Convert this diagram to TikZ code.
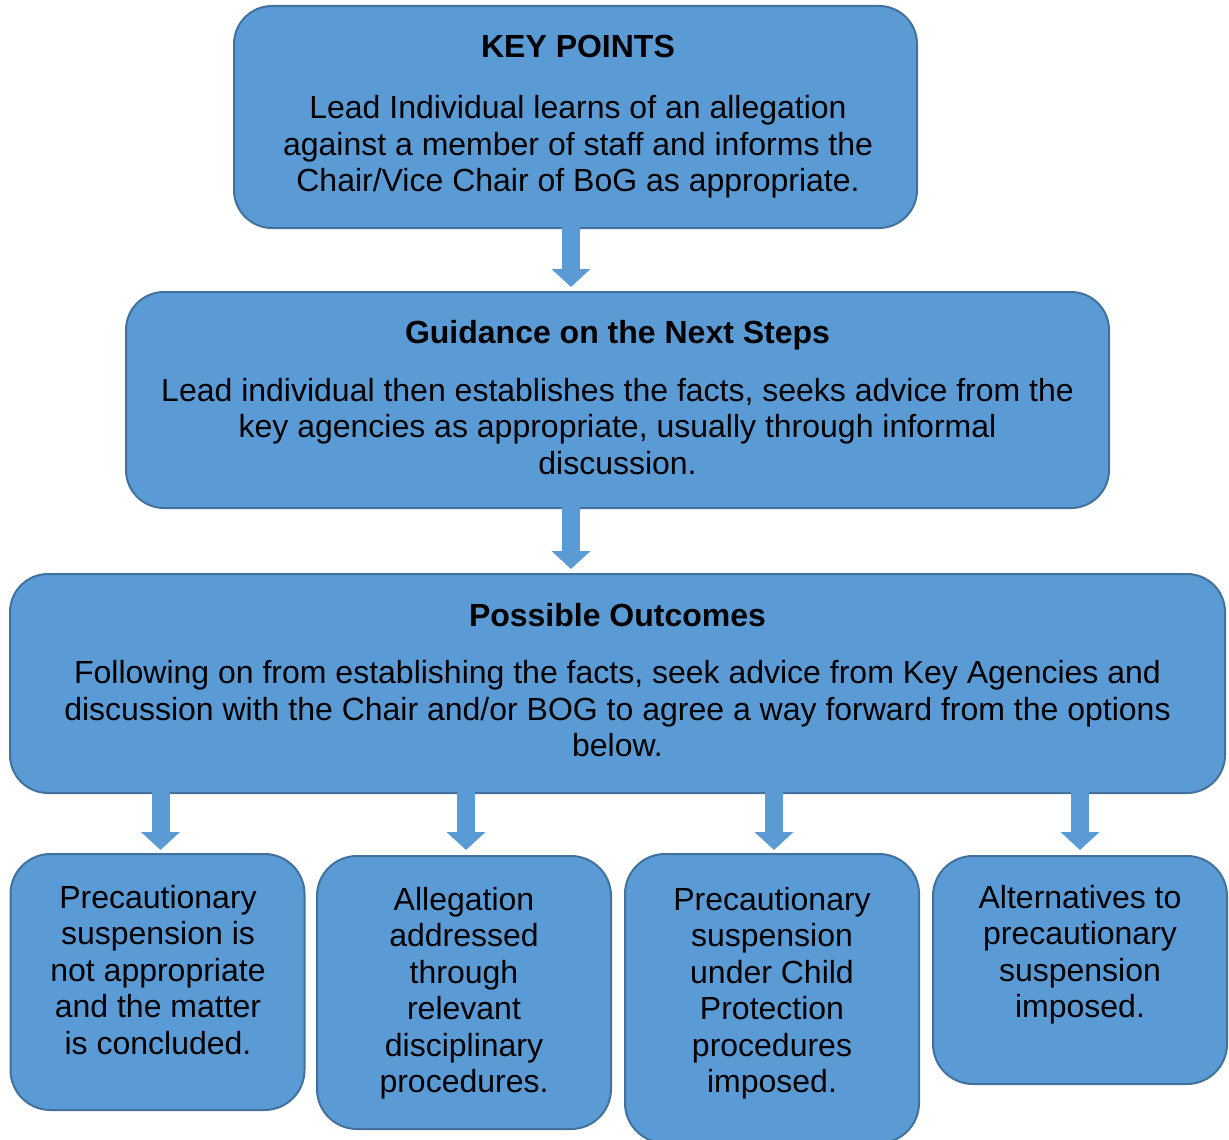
\documentclass[tikz,border=0pt]{standalone}
\usepackage{fontspec}
\setmainfont{Liberation Sans}
\usetikzlibrary{arrows.meta}
\definecolor{boxfill}{HTML}{5B9BD5}
\definecolor{boxline}{HTML}{41719C}
\newcommand{\txtfont}{\fontsize{16}{18.25}\selectfont}
\tikzset{
  box/.style={draw=boxline, fill=boxfill, line width=1pt, rounded corners=19pt, rectangle, inner sep=0pt},
  smallbox/.style={box, rounded corners=20pt, minimum width=147pt},
  txt/.style={font=\txtfont, align=center, inner sep=0pt, anchor=base, text=black,
    execute at begin node={\spaceskip=0.2778em\xspaceskip=0.2778em\relax}},
  ttl/.style={txt, font=\txtfont\bfseries},
  blockarrow/.style={draw=boxfill, line width=9pt, -{Triangle[width=19pt,length=9pt]}, shorten <=-2pt}
}
\begin{document}
\begin{tikzpicture}[x=0.5pt,y=-0.5pt]
\useasboundingbox (0,0) rectangle (1229,1139);
% main boxes
\node[box, minimum width=341.5pt, minimum height=111pt] (box1) at (575.5,117) {};
\node[box, minimum width=491.5pt, minimum height=108pt] (box2) at (617.5,400) {};
\node[box, minimum width=607.5pt, minimum height=109.5pt] (box3) at (617.5,683.5) {};
% bottom boxes
\node[smallbox, minimum height=128pt] (b1) at (157.5,982) {};
\node[smallbox, minimum height=136.5pt] (b2) at (464,992.5) {};
\node[smallbox, minimum height=144.5pt] (b3) at (772,998.5) {};
\node[smallbox, minimum height=114pt] (b4) at (1080,970) {};
% texts
\node[ttl, text width=320pt] (t1) at (578,58) {KEY POINTS};
\node[txt, text width=320pt] (x1) at (578,119) {Lead Individual learns of an allegation\\against a member of staff and informs the\\Chair/Vice Chair of BoG as appropriate.};
\node[ttl, text width=480pt] (t2) at (617.5,343) {Guidance on the Next Steps};
\node[txt, text width=480pt] (x2) at (617.5,401) {Lead individual then establishes the facts, seeks advice from the\\key agencies as appropriate, usually through informal\\discussion.};
\node[ttl, text width=590pt] (t3) at (617.5,626) {Possible Outcomes};
\node[txt, text width=590pt] (x3) at (617.5,683.5) {Following on from establishing the facts, seek advice from Key Agencies and\\discussion with the Chair and/or BOG to agree a way forward from the options\\below.};
\node[txt, text width=140pt] (y1) at (158,908) {Precautionary\\suspension is\\not appropriate\\and the matter\\is concluded.};
\node[txt, text width=140pt] (y2) at (464,910) {Allegation\\addressed\\through\\relevant\\disciplinary\\procedures.};
\node[txt, text width=140pt] (y3) at (772,910) {Precautionary\\suspension\\under Child\\Protection\\procedures\\imposed.};
\node[txt, text width=140pt] (y4) at (1080,908) {Alternatives to\\precautionary\\suspension\\imposed.};
% arrows
\coordinate (ax) at (571,0);
\draw[blockarrow, shorten >=2pt] (ax |- box1.south) -- (ax |- box2.north);
\draw[blockarrow, shorten >=2pt] (ax |- box2.south) -- (ax |- box3.north);
\coordinate (c1) at ([xshift=1.5pt]b1.north);
\coordinate (c2) at ([xshift=1pt]b2.north);
\coordinate (c3) at ([xshift=1pt]b3.north);
\coordinate (c4) at (b4.north);
\draw[blockarrow, shorten >=1.5pt] (c1 |- box3.south) -- (c1);
\draw[blockarrow, shorten >=2.5pt] (c2 |- box3.south) -- (c2);
\draw[blockarrow, shorten >=1.5pt] (c3 |- box3.south) -- (c3);
\draw[blockarrow, shorten >=2.5pt] (c4 |- box3.south) -- (c4);
\end{tikzpicture}
\end{document}
